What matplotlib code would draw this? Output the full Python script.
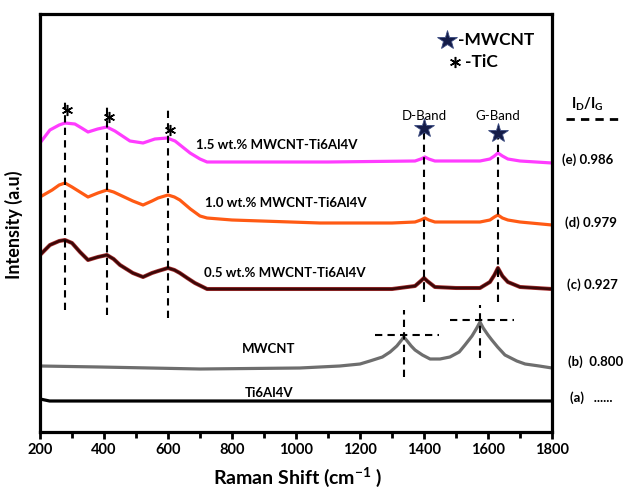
import numpy as np
import matplotlib
matplotlib.use('Agg')
from matplotlib import pyplot as plt
from matplotlib.ticker import MultipleLocator

plt.rcParams['font.family'] = ['Lato', 'DejaVu Sans']
plt.rcParams['font.weight'] = 'bold'
plt.rcParams['mathtext.fontset'] = 'custom'
plt.rcParams['mathtext.rm'] = 'Lato:bold'
plt.rcParams['mathtext.bf'] = 'Lato:bold'
plt.rcParams['mathtext.it'] = 'Lato:bold'

# raman shift (cm-1) / intensity (a.u., stacked offsets)
ti_x = [200, 230, 300, 600, 1000, 1400, 1800]
ti_y = [33, 31, 31, 31, 31, 31, 31]

cnt_x = [200, 387, 700, 1012, 1137, 1200, 1231, 1270, 1294, 1315, 1330, 1337, 1345,
         1360, 1372, 1395, 1419, 1450, 1481, 1510, 1528, 1550, 1565, 1575, 1585,
         1600, 1612, 1630, 1653, 1690, 1716, 1760, 1800]
cnt_y = [66, 65, 63, 64, 66, 68, 71, 75, 80, 86, 92, 95, 92,
         86, 82, 77, 73, 73, 75, 80, 87, 96, 104, 110, 104,
         97, 92, 85, 77, 71, 68, 66, 64]

w05_x = [200, 231, 260, 278, 300, 325, 350, 381, 409, 430, 450, 490, 522, 550, 569,
         600, 620, 637, 660, 684, 722, 800, 1000, 1300, 1372, 1390, 1400, 1410, 1434,
         1500, 1575, 1606, 1620, 1631, 1645, 1662, 1700, 1750, 1800]
w05_y = [177, 187, 191, 192, 189, 180, 172, 175, 177, 173, 167, 159, 155, 159, 161,
         164, 162, 159, 154, 149, 143, 143, 143, 143, 146, 151, 154, 151, 145,
         144, 144, 150, 157, 164, 156, 150, 145, 144, 143]

w10_x = [200, 238, 260, 278, 300, 325, 350, 381, 409, 430, 450, 490, 522, 550, 569,
         600, 620, 637, 670, 700, 722, 800, 1075, 1300, 1372, 1390, 1403, 1415, 1434,
         1500, 1575, 1606, 1620, 1631, 1645, 1662, 1700, 1800]
w10_y = [235, 242, 247, 249, 245, 240, 235, 239, 242, 240, 237, 231, 227, 231, 234,
         237, 235, 232, 223, 216, 214, 212, 209, 209, 210, 212, 214, 212, 210,
         210, 210, 212, 215, 217, 214, 212, 210, 207]

w15_x = [200, 231, 260, 278, 309, 330, 350, 380, 409, 434, 481, 522, 559, 597,
         622, 669, 700, 722, 800, 1100, 1372, 1390, 1403, 1415, 1434, 1500, 1575,
         1606, 1620, 1631, 1645, 1662, 1700, 1800]
w15_y = [289, 302, 307, 309, 308, 304, 300, 303, 305, 301, 291, 289, 293, 294,
         291, 279, 273, 270, 270, 270, 271, 273, 275, 273, 271, 271, 271,
         273, 276, 279, 276, 273, 271, 269]

tic_peaks = [278, 410, 600]
band_peaks = [1400, 1630]
cnt_peaks = [1337, 1575]
ratios = ['(e) 0.986', '(d) 0.979', '(c) 0.927', '(b)  0.800', '(a)   ......']
samples = ['1.5 wt.% MWCNT-Ti6Al4V', '1.0 wt.% MWCNT-Ti6Al4V', '0.5 wt.% MWCNT-Ti6Al4V',
           'MWCNT', 'Ti6Al4V']

W, H = 633, 488
fig = plt.figure(figsize=(W / 100, H / 100), dpi=100)
ax = fig.add_axes([40 / W, 56 / H, 512 / W, 418 / H])

lw = 2.3
ax.plot(ti_x, ti_y, color='black', lw=lw)
ax.plot(cnt_x, cnt_y, color='#6e6e6e', lw=lw)
ax.plot(w05_x, w05_y, color='#a83030', lw=lw + 0.6)
ax.plot(w05_x, w05_y, color='#3c0808', lw=lw - 0.4)
ax.plot(w10_x, w10_y, color='#ff5a14', lw=lw)
ax.plot(w15_x, w15_y, color='#ff3cff', lw=lw)

dash = dict(color='black', lw=1.5, dashes=(3.5, 2.5))
# TiC peaks
tic_top = [332, 329, 325]
tic_bot = [122, 117, 114]
tic_mark = [322, 315, 302]
for p, t, b, m in zip(tic_peaks, tic_top, tic_bot, tic_mark):
    ax.plot([p, p], [b, t], **dash)
    ax.plot(p + 5, m, marker=(6, 2, 0), ms=8, mew=1.1, color='black')

# D / G bands
star_y = [304, 299]
for p, s, name in zip(band_peaks, star_y, ['D-Band', 'G-Band']):
    ax.plot([p, p], [130, s], **dash)
    ax.plot(p, s, marker='*', ms=15, color='#141c48', mec='#3a4a80', mew=0.6)
    ax.text(p, 316, name, ha='center', va='center', fontsize=9.5, fontweight='normal')

# MWCNT peak crosses
ax.plot([cnt_peaks[0], cnt_peaks[0]], [55, 122], **dash)
ax.plot([cnt_peaks[0] - 90, cnt_peaks[0] + 110], [97, 97], **dash)
ax.plot([cnt_peaks[1], cnt_peaks[1]], [74, 127], **dash)
ax.plot([cnt_peaks[1] - 95, cnt_peaks[1] + 105], [112, 112], **dash)

# legend
ax.plot(1472, 392, marker='*', ms=15, color='#141c48', mec='#3a4a80', mew=0.6)
ax.text(1506, 392, '-MWCNT', ha='left', va='center', fontsize=12.5)
ax.plot(1497, 370, marker=(6, 2, 0), ms=8, mew=1.1, color='black')
ax.text(1528, 370, '-TiC', ha='left', va='center', fontsize=12.5)

# sample labels
lab_x = [687, 716, 712, 916, 916]
lab_y = [287, 229, 159, 83, 39]
for i, (s, x, y) in enumerate(zip(samples, lab_x, lab_y)):
    ax.text(x, y, s, ha='left' if i < 3 else 'center', va='center', fontsize=9.5)

# ratios on the right
rat_px = [562, 565, 567, 568, 570]
rat_py = [160, 223, 285, 362, 398]
for r, x, y in zip(ratios, rat_px, rat_py):
    fig.text(x / W, 1 - y / H, r, ha='left', va='center', fontsize=9.5)
fig.text(587 / W, 1 - 104 / H, r'$\mathbf{I_D/I_G}$', ha='center', va='center', fontsize=10.5)
fig.add_artist(plt.Line2D([566 / W, 622 / W], [1 - 119 / H, 1 - 119 / H],
                          color='black', lw=2, dashes=(3, 2.2)))

ax.set_xlim(200, 1800)
ax.set_ylim(0, 418)
ax.xaxis.set_major_locator(MultipleLocator(200))
ax.xaxis.set_minor_locator(MultipleLocator(100))
ax.set_yticks([])
ax.tick_params(axis='x', which='both', direction='out', width=2, labelsize=10.5)
ax.tick_params(axis='x', which='major', length=5, pad=3)
ax.tick_params(axis='x', which='minor', length=4)
for sp in ax.spines.values():
    sp.set_linewidth(2.3)

fig.text(297 / W, 1 - 477 / H, r'Raman Shift (cm$^{-1}$ )', ha='center', va='center', fontsize=14)
fig.text(14 / W, 1 - 225 / H, 'Intensity (a.u)', rotation=90, ha='center', va='center', fontsize=13)

fig.savefig('out.png', dpi=100)
